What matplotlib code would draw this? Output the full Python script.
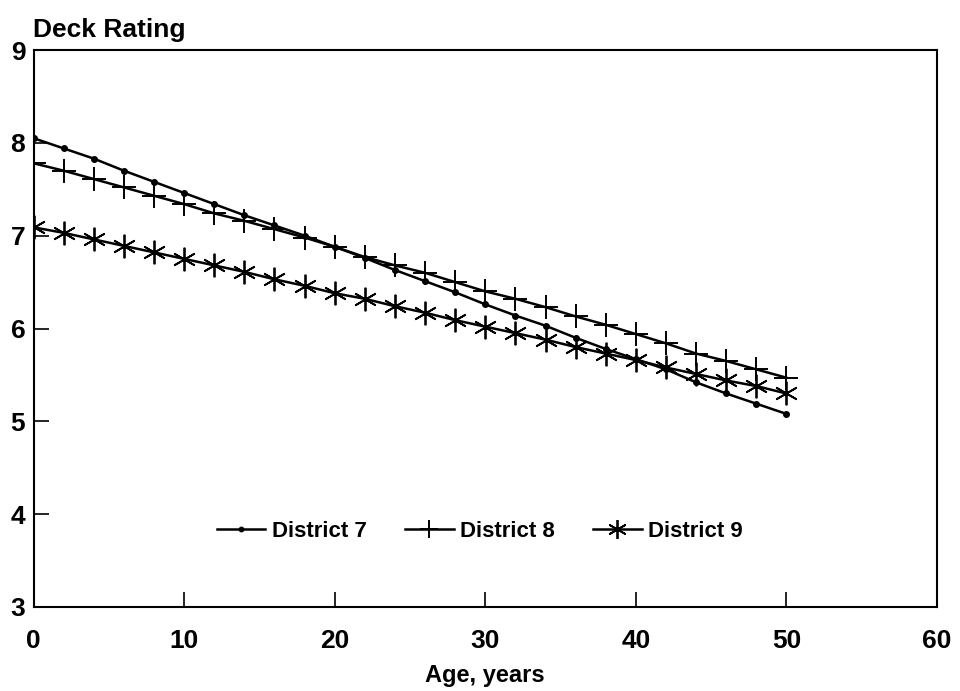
import matplotlib
matplotlib.use('Agg')
import matplotlib.pyplot as plt
import numpy as np

# deck rating vs age
age = list(range(0, 51, 2))
district_7 = [8.05, 7.94, 7.83, 7.70, 7.58, 7.46, 7.34, 7.22, 7.11, 7.00,
              6.88, 6.76, 6.63, 6.51, 6.39, 6.26, 6.14, 6.03, 5.90, 5.78,
              5.67, 5.56, 5.42, 5.30, 5.19, 5.08]
district_8 = [7.78, 7.70, 7.61, 7.52, 7.43, 7.34, 7.24, 7.16, 7.07, 6.98,
              6.88, 6.77, 6.68, 6.60, 6.50, 6.40, 6.32, 6.23, 6.13, 6.04,
              5.94, 5.84, 5.73, 5.65, 5.56, 5.47]
district_9 = [7.09, 7.03, 6.96, 6.89, 6.82, 6.75, 6.68, 6.61, 6.53, 6.46,
              6.38, 6.32, 6.24, 6.17, 6.09, 6.02, 5.95, 5.88, 5.80, 5.73,
              5.66, 5.58, 5.51, 5.44, 5.38, 5.30]

x_ticks = [0, 10, 20, 30, 40, 50, 60]
y_ticks = [3, 4, 5, 6, 7, 8, 9]

plt.rcParams['font.family'] = ['Liberation Sans', 'DejaVu Sans']
plt.rcParams['font.weight'] = 'bold'


def main():
    fig = plt.figure(figsize=(9.6, 6.91), dpi=100)
    ax = fig.add_axes([0.035, 0.1216, 0.941, 0.806])

    ax.plot(age, district_7, color='black', lw=1.8, marker='o', ms=4,
            label='District 7')
    ax.plot(age, district_8, color='black', lw=1.8, marker='+', ms=17,
            mew=1.4, label='District 8')
    ax.plot(age, district_9, color='black', lw=1.8, marker=(6, 2, 0), ms=17,
            mew=1.3, label='District 9')

    ax.set_xlim(0, 60)
    ax.set_ylim(3, 9)
    ax.set_xticks(x_ticks)
    ax.set_yticks(y_ticks)
    ax.tick_params(direction='in', length=11, width=1.2, labelsize=19,
                   top=False, right=False)
    ax.tick_params(axis='x', pad=16)
    ax.tick_params(axis='y', pad=6)
    for s in ax.spines.values():
        s.set_linewidth(1.5)

    ax.set_xlabel('Age, years', fontsize=17, fontweight='bold', labelpad=8)
    fig.text(0.034, 0.957, 'Deck Rating', fontsize=19, fontweight='bold',
             ha='left', va='center')

    ax.legend(loc='center', bbox_to_anchor=(0.494, 0.136), ncol=3,
              frameon=False, fontsize=16, handlelength=2.2,
              columnspacing=1.7, handletextpad=0.3, markerscale=0.8)

    fig.savefig('out.png', dpi=100)


if __name__ == '__main__':
    main()
